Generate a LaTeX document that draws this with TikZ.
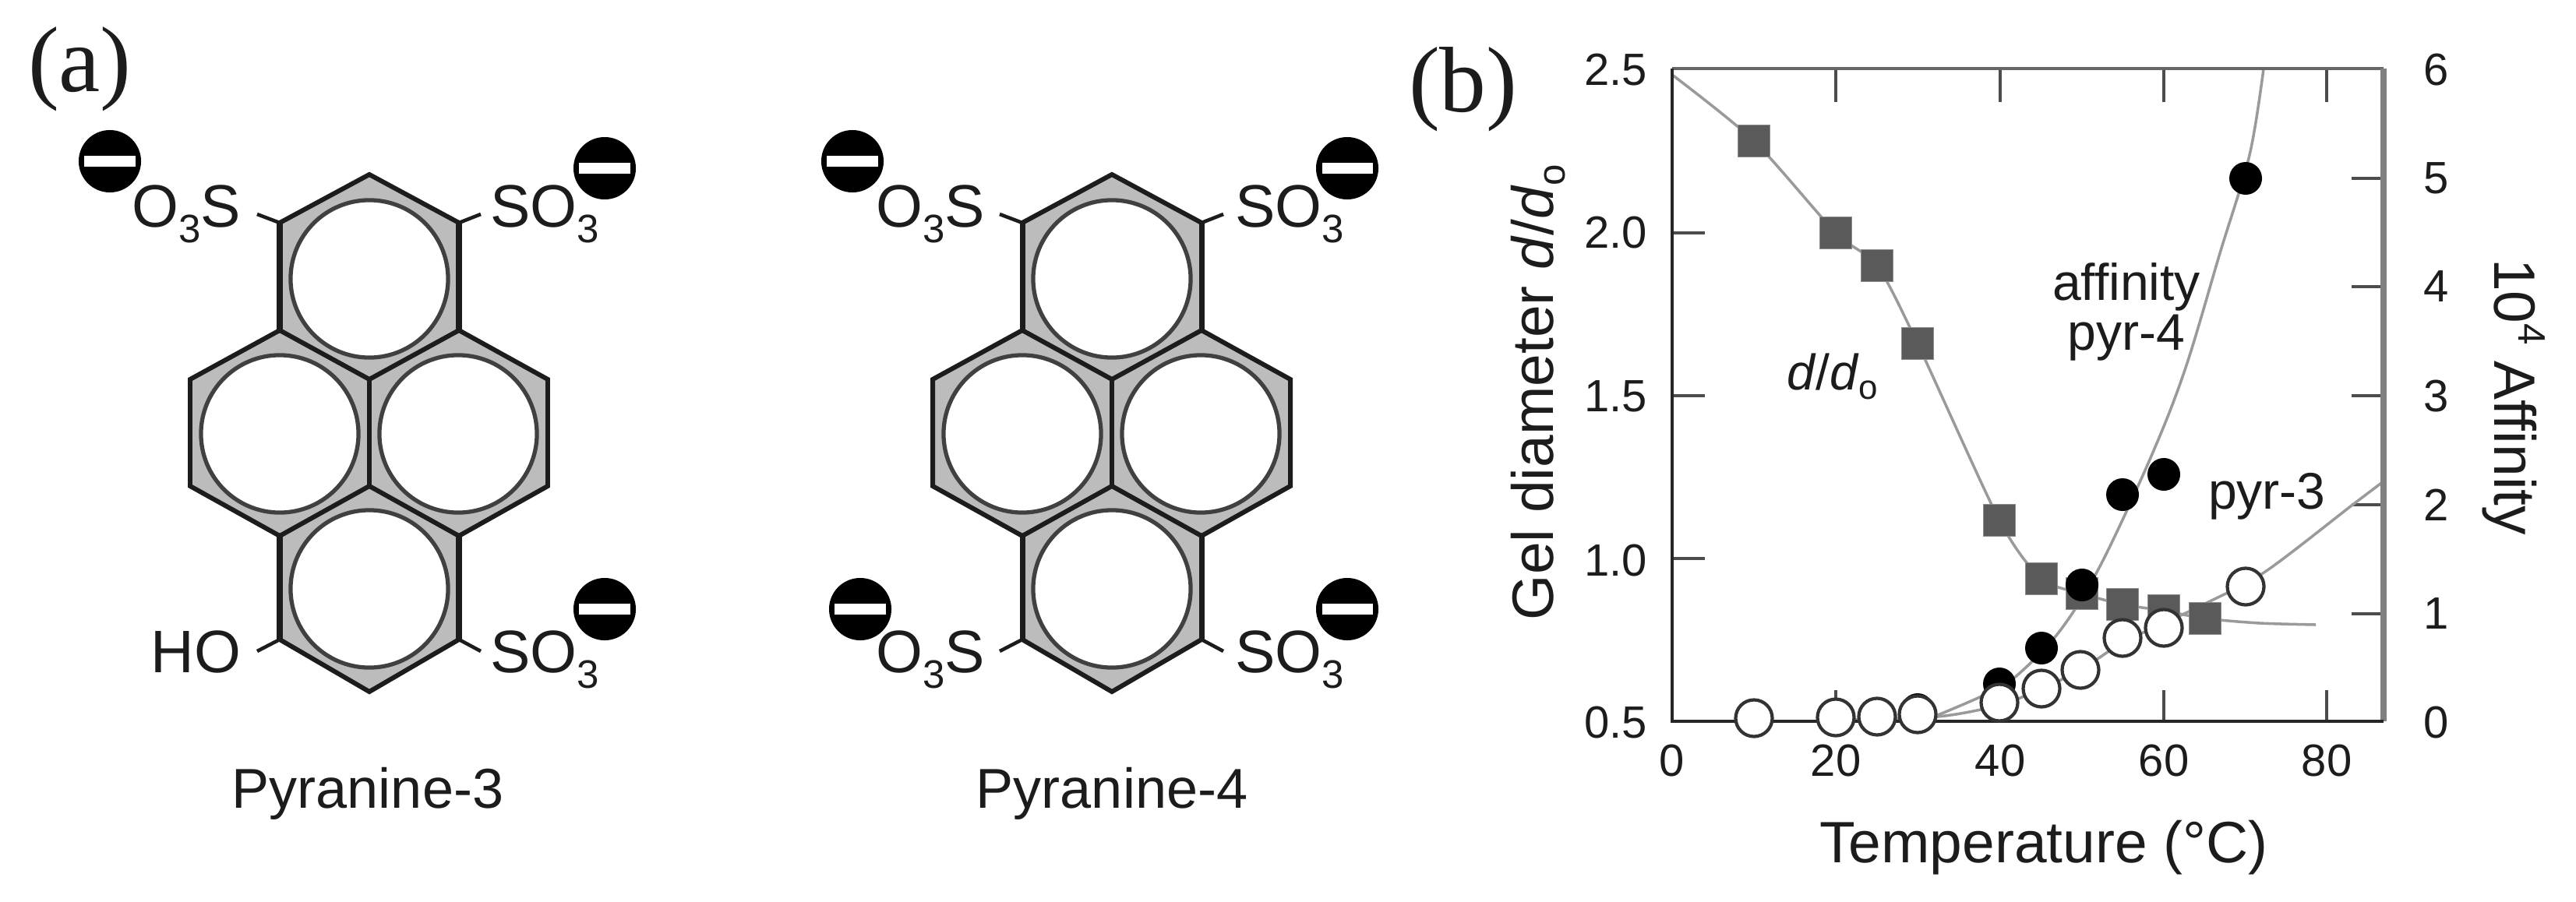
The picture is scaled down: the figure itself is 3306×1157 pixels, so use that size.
\documentclass[tikz,border=0pt]{standalone}
\usepackage{fontspec}
\setmainfont{Liberation Sans}
\newfontfamily\panelfont{Liberation Serif}
\newcommand\fz[1]{\fontsize{#1}{#1}\selectfont}
\newcommand\lowthree{\raisebox{-.27em}{\fz{14.5}3}}
\definecolor{ink}{HTML}{1C1C1C}
\definecolor{shade}{HTML}{BCBCBC}
\definecolor{curve}{HTML}{9A9A9A}
\definecolor{sqfill}{HTML}{5A5A5A}
\tikzset{
  x=0.01cm,y=-0.01cm,
  every node/.style={inner sep=0pt,outer sep=0pt,text=ink},
  ion/.style={circle,fill=black,minimum size=0.8cm,
    path picture={\fill[white] (-.325cm,-.07cm) rectangle (.325cm,.07cm);}},
  ringnode/.style={circle,draw=black!75,fill=white,line width=1.5pt,minimum size=2.02cm},
  bondline/.style={draw=ink,line width=1.3pt},
  skeleton/.style={draw=ink,line width=1.7pt,line join=miter},
  chem/.style={font=\fz{21.9}},
  caption/.style={font=\fz{20.5},anchor=base},
  panel/.style={font=\panelfont\fz{34},anchor=base west},
  ticknum/.style={font=\fz{16.5}},
  axtitle/.style={font=\fz{21.3}},
  annot/.style={font=\fz{18.8},anchor=base},
  axisdark/.style={draw=black!85,line width=1.4pt},
  axisgray/.style={draw=black!60,line width=1.2pt},
  axisthick/.style={draw=black!50,line width=2.1pt},
  tickmark/.style={draw=black!70,line width=1pt},
  fitcurve/.style={draw=curve,line width=1pt},
  sq/.style={rectangle,fill=sqfill,draw=black!45,line width=.4pt,minimum size=.41cm},
  dotblack/.style={circle,fill=black,minimum size=.42cm},
  dotopen/.style={circle,fill=white,draw=black!80,line width=1.2pt,minimum size=.47cm},
  pics/pyrene/.style={code={
    \coordinate (-t) at (0,224);
    \coordinate (-ur) at (115,286);
    \coordinate (-mr) at (115,424);
    \coordinate (-er) at (229,487);
    \coordinate (-fr) at (229,624);
    \coordinate (-lr) at (115,688);
    \coordinate (-br) at (115,821);
    \coordinate (-b) at (0,888);
    \coordinate (-bl) at (-115,821);
    \coordinate (-ll) at (-115,688);
    \coordinate (-fl) at (-230,624);
    \coordinate (-el) at (-230,487);
    \coordinate (-ml) at (-115,424);
    \coordinate (-ul) at (-115,286);
    \coordinate (-cu) at (0,487);
    \coordinate (-cd) at (0,624);
    \path[fill=shade,skeleton] (-t)--(-ur)--(-mr)--(-er)--(-fr)--(-lr)--(-br)--(-b)--(-bl)--(-ll)--(-fl)--(-el)--(-ml)--(-ul)--cycle;
    \node[ringnode] (-r1) at (0,358) {};
    \node[ringnode] (-r2) at (-115,557) {};
    \node[ringnode] (-r3) at (114,557) {};
    \node[ringnode] (-r4) at (0,756) {};
    \draw[skeleton] (-ml)--(-cu)--(-mr);
    \draw[skeleton] (-cu)--(-cd);
    \draw[skeleton] (-ll)--(-cd)--(-lr);
    \draw[skeleton,line width=2pt] (-ul)--(-ml) (-ur)--(-mr) (-ll)--(-bl) (-lr)--(-br);
  }}
}
\begin{document}
\begin{tikzpicture}
\useasboundingbox (0,0) rectangle (3306,1157);
\node[panel] (pa) at (36,117) {(a)};
\node[panel] (pb) at (1808,143) {(b)};

% Pyranine-3
\pic (A) at (474,0) {pyrene};
\coordinate (a1) at (330,275); \coordinate (a2) at (617,275);
\coordinate (a3) at (330,836); \coordinate (a4) at (617,836);
\draw[bondline] (A-ul)--(a1) (A-ur)--(a2) (A-bl)--(a3) (A-br)--(a4);
\node[ion] (ia1) at (141,207) {};
\node[ion] (ia2) at (776,216) {};
\node[ion] (ia3) at (776,782) {};
\node[chem,anchor=base east] (ta1) at (309,291) {O\lowthree S};
\node[chem,anchor=base west] (ta2) at (629,291) {SO\lowthree};
\node[chem,anchor=base west] (ta3) at (629,863) {SO\lowthree};
\node[chem,anchor=base east] (ta4) at (309,863) {HO};
\node[caption] (ca) at (472,1037) {Pyranine-3};

% Pyranine-4
\pic (B) at (1427,0) {pyrene};
\coordinate (b1) at (1283,275); \coordinate (b2) at (1570,275);
\coordinate (b3) at (1283,836); \coordinate (b4) at (1570,836);
\draw[bondline] (B-ul)--(b1) (B-ur)--(b2) (B-bl)--(b3) (B-br)--(b4);
\node[ion] (ib1) at (1094,207) {};
\node[ion] (ib2) at (1729,216) {};
\node[ion] (ib3) at (1104,782) {};
\node[ion] (ib4) at (1729,782) {};
\node[chem,anchor=base east] (tb1) at (1264,291) {O\lowthree S};
\node[chem,anchor=base west] (tb2) at (1585,291) {SO\lowthree};
\node[chem,anchor=base west] (tb3) at (1585,863) {SO\lowthree};
\node[chem,anchor=base east] (tb4) at (1264,863) {O\lowthree S};
\node[caption] (cb) at (1427,1037) {Pyranine-4};

% Plot
\coordinate (NW) at (2146,88);
\coordinate (NE) at (3059,88);
\coordinate (SW) at (2146,926);
\coordinate (SE) at (3059,926);
\foreach \xx in {2356,2567,2777,2986} \draw[tickmark] (\xx,88)--(\xx,131);
\foreach \xx in {2356,2567,2777,2986} \draw[tickmark] (\xx,926)--(\xx,886);
\foreach \yy in {299,508,717} \draw[tickmark] (2146,\yy)--(2188,\yy);
\foreach \yy in {229,368,508,648,788} \draw[tickmark] (3059,\yy)--(3018,\yy);

\begin{scope}
\clip (2146,88) rectangle (3059,926);
\draw[fitcurve] plot[smooth,tension=.45] coordinates {(2146,96)(2251,181)(2356,299)(2409,341)(2461,441)(2566,668)(2620,743)(2672,762)(2724,776)(2777,784)(2830,794)(2900,800)(2972,802)};
\draw[fitcurve] plot[smooth,tension=.55] coordinates {(2487,918)(2545,893)(2584,871)(2642,812)(2695,727)(2762,583)(2805,472)(2849,325)(2887,199)(2905,88)};
\draw[fitcurve] plot[smooth,tension=.5] coordinates {(2370,924)(2487,920)(2567,905)(2620,884)(2670,860)(2724,825)(2777,800)(2830,775)(2907,734)(3018,649)(3059,618)};
\end{scope}

\draw[axisgray] (NW)--(NE);
\draw[axisthick] (NE)--(SE);
\draw[axisdark] (NW)--(SW)--(SE);

\foreach \xx/\yy in {2251/181,2356/299,2409/341,2461/441,2566/668,2620/743,2672/762,2724/776,2777/784,2830/794}
  \node[sq] at (\xx,\yy) {};
\foreach \xx/\yy in {2356/919,2461/911,2566/878,2620/832,2672/751,2724/635,2777/609,2882/229}
  \node[dotblack] at (\xx,\yy) {};
\foreach \xx/\yy in {2251/922,2356/921,2409/920,2461/917,2566/902,2620/884,2670/860,2724/819,2777/806,2882/753}
  \node[dotopen] at (\xx,\yy) {};

\foreach \lab/\yy in {2.5/90,2.0/299,1.5/509,1.0/720,0.5/928}
  \node[ticknum,anchor=east] at (2114,\yy) {\lab};
\foreach \lab/\xx in {0/2146,20/2356,40/2567,60/2777,80/2986}
  \node[ticknum,anchor=base] at (\xx,996) {\lab};
\foreach \lab/\yy in {0/928,1/788,2/648,3/509,4/368,5/229,6/90}
  \node[ticknum] at (3127,\yy) {\lab};

\node[axtitle,anchor=base] (xt) at (2623,1107) {Temperature (°C)};
\node[axtitle,rotate=90,anchor=base west] (yl) at (1993,796) {Gel diameter \textit{d}/\textit{d}\raisebox{-.2em}{\fz{14}o}};
\node[axtitle,rotate=-90,anchor=base west] (yr) at (3201,332) {10\raisebox{.42em}{\fz{14}4} Affinity};
\node[annot,anchor=base west,font=\fz{18.3}] (dd) at (2293,500) {\textit{d}/\textit{d}\raisebox{-.2em}{\fz{12.5}o}};
\node[annot] (af) at (2729,385) {affinity};
\node[annot] (p4) at (2729,449) {pyr-4};
\node[annot,anchor=base west] (p3) at (2834,653) {pyr-3};
\end{tikzpicture}
\end{document}
